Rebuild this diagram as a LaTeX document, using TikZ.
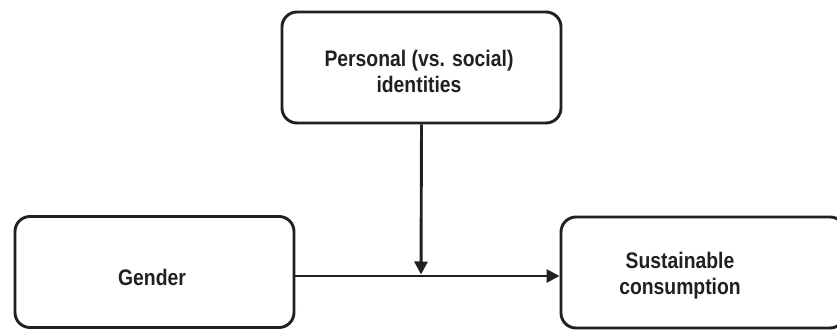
\documentclass[tikz,border=0pt]{standalone}
\usepackage{fontspec}
\setmainfont{Liberation Sans}[FakeStretch=0.86]
\usetikzlibrary{arrows.meta}
\definecolor{ink}{HTML}{231F20}
\begin{document}
\begin{tikzpicture}[x=1pt,y=-1pt,
  box/.style={draw=ink, line width=2.9pt, rounded corners=15pt,
    minimum width=279pt, minimum height=111pt, inner sep=0pt},
  lbl/.style={text=ink, font=\bfseries\fontsize{22.5}{26}\selectfont, align=center, inner sep=0pt},
  arr/.style={draw=ink, line width=2.9pt, -{Triangle[length=13pt,width=13pt]}}]
\useasboundingbox (0,0) rectangle (837,334);
\node[box] (pers) at (421.5,67.5) {};
\node[lbl] (perst) at (419,71.5) {Personal (vs. social)\\identities};
\node[box] (gender) at (154.5,272) {};
\node[lbl] (gendert) at (152,277) {Gender};
\node[box, minimum width=284pt] (sust) at (703,272.5) {};
\node[lbl] (sustt) at (680,275.5) {Sustainable\\consumption};
\coordinate (j) at (421,276);
\draw[arr] ([yshift=-4pt]gender.east) -- ([yshift=-3.5pt]sust.west);
\draw[arr, shorten >=1.5pt] (pers.south) -- (j);
\end{tikzpicture}
\end{document}
